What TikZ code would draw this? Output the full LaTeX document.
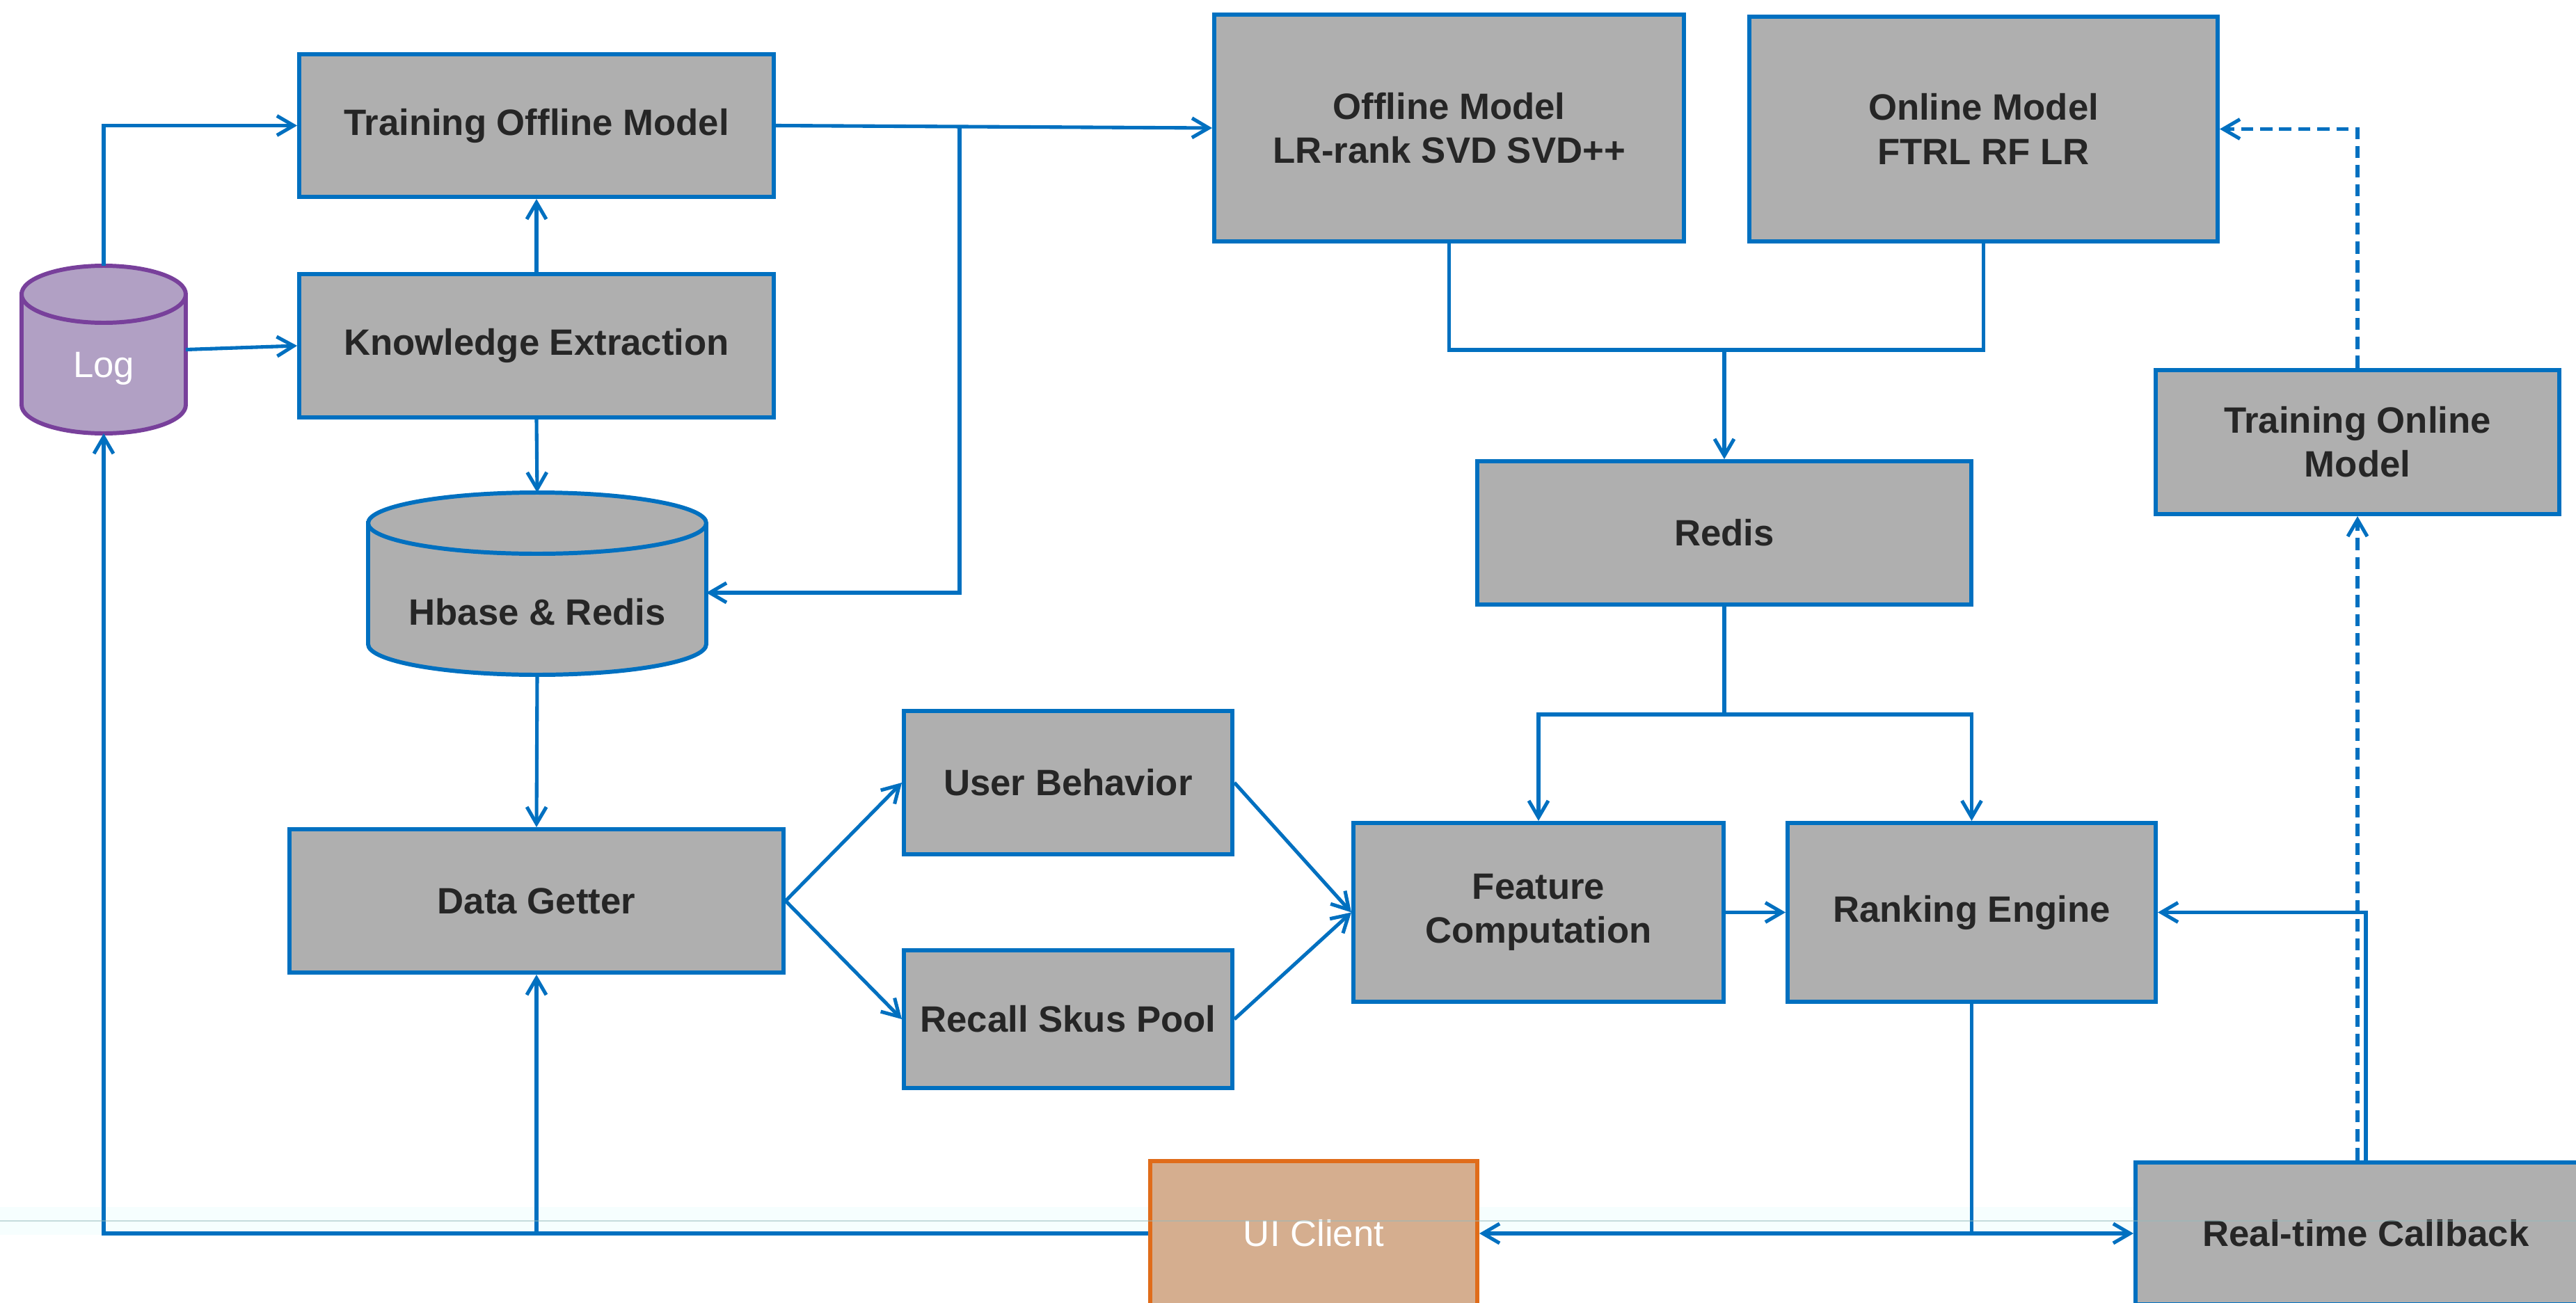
\documentclass[tikz,border=0pt]{standalone}
\usepackage{fontspec}
\setmainfont{Liberation Sans}
\usetikzlibrary{arrows.meta,calc}

\definecolor{flowblue}{RGB}{0,112,192}
\definecolor{boxgrey}{RGB}{175,175,175}
\definecolor{labelgrey}{RGB}{38,38,38}
\definecolor{logfill}{RGB}{177,160,196}
\definecolor{logedge}{RGB}{120,64,155}
\definecolor{uifill}{RGB}{213,174,143}
\definecolor{uiedge}{RGB}{224,108,26}
\definecolor{footerline}{RGB}{150,185,188}
\definecolor{footerband}{RGB}{246,254,254}

\tikzset{
  proc/.style={draw=flowblue, line width=1.7pt, fill=boxgrey, text=labelgrey,
    font=\fontsize{15}{18}\selectfont\bfseries, align=center, inner sep=0pt},
  client/.style={draw=uiedge, line width=1.7pt, fill=uifill, text=white,
    font=\fontsize{15}{18}\selectfont, align=center, inner sep=0pt},
  anchorbox/.style={inner sep=0pt, outer sep=0pt},
  link/.style={draw=flowblue, line width=1.45pt},
  flow/.style={link, -{Straight Barb[length=2.4mm,width=2.8mm]}},
  dashflow/.style={flow, dash pattern=on 5pt off 2.8pt},
}

\begin{document}
\begin{tikzpicture}
\useasboundingbox (0,0) rectangle (37.02,-18.73);
\clip (0,0) rectangle (37.02,-18.73);
\fill[white] (0,0) rectangle (37.02,-18.73);

% faint footer band of the slide
\fill[footerband] (0,-17.35) rectangle (37.02,-17.75);

% ---- storage cylinders ----
\filldraw[fill=logfill, draw=logedge, line width=1.7pt]
  (0.31,-4.23) -- (0.31,-5.82)
  arc[start angle=180, end angle=360, x radius=1.18cm, y radius=0.41cm]
  -- (2.67,-4.23)
  arc[start angle=0, end angle=180, x radius=1.18cm, y radius=0.41cm] -- cycle;
\draw[logedge, line width=1.7pt] (0.31,-4.23)
  arc[start angle=180, end angle=360, x radius=1.18cm, y radius=0.41cm];
\node[anchorbox, minimum width=2.36cm, minimum height=2.41cm] (log) at (1.49,-5.025) {};
\node[font=\fontsize{15}{18}\selectfont, text=white] (logtext) at (1.49,-5.30) {Log};

\filldraw[fill=boxgrey, draw=flowblue, line width=1.7pt]
  (5.29,-7.52) -- (5.29,-9.26)
  arc[start angle=180, end angle=360, x radius=2.43cm, y radius=0.44cm]
  -- (10.15,-7.52)
  arc[start angle=0, end angle=180, x radius=2.43cm, y radius=0.44cm] -- cycle;
\draw[flowblue, line width=1.7pt] (5.29,-7.52)
  arc[start angle=180, end angle=360, x radius=2.43cm, y radius=0.44cm];
\node[anchorbox, minimum width=4.86cm, minimum height=2.62cm] (hb) at (7.72,-8.39) {};
\node[text=labelgrey, font=\fontsize{15}{18}\selectfont\bfseries] (hbtext) at (7.72,-8.80) {Hbase \& Redis};

% ---- process boxes ----
\node[proc, minimum width=6.82cm, minimum height=2.05cm] (tom) at (7.71,-1.805) {Training Offline Model};
\node[proc, minimum width=6.82cm, minimum height=2.06cm] (ke) at (7.71,-4.97) {Knowledge Extraction};
\node[proc, minimum width=7.10cm, minimum height=2.06cm] (dg) at (7.71,-12.95) {Data Getter};
\node[proc, minimum width=4.72cm, minimum height=2.06cm] (ub) at (15.35,-11.25) {User Behavior};
\node[proc, minimum width=4.72cm, minimum height=1.98cm] (rsp) at (15.35,-14.65) {Recall Skus Pool};
\node[proc, minimum width=5.32cm, minimum height=2.57cm] (fc) at (22.11,-13.115) {Feature\\Computation};
\node[proc, minimum width=5.29cm, minimum height=2.57cm] (re) at (28.335,-13.115) {Ranking Engine};
\node[proc, minimum width=7.10cm, minimum height=2.06cm] (redis) at (24.78,-7.66) {Redis};
\node[proc, minimum width=6.75cm, minimum height=3.26cm] (offm) at (20.825,-1.84) {Offline Model\\LR-rank SVD SVD++};
\node[proc, minimum width=6.73cm, minimum height=3.23cm] (onm) at (28.505,-1.855) {Online Model\\FTRL RF LR};
\node[proc, minimum width=5.80cm, minimum height=2.07cm] (tonm) at (33.88,-6.355) {Training Online\\Model};
\node[client, minimum width=4.70cm, minimum height=2.08cm] (ui) at (18.88,-17.73) {UI Client};
\node[proc, minimum width=6.62cm, minimum height=2.04cm] (rtc) at (34.00,-17.73) {Real-time Callback};

% ---- junction points ----
\coordinate (offj) at (13.79,-1.82);
\coordinate (mj) at (24.78,-5.03);
\coordinate (rj) at (24.78,-10.27);

% ---- connectors ----
\draw[flow] (log.north) |- (tom.west);
\draw[flow] (log.east) -- (ke.west);
\draw[flow] (ke.north) -- (tom.south);
\draw[flow] (ke.south) -- (hb.north);
\draw[flow] (tom.east) -- (offm.west);
\draw[flow] (offj) |- ($(hb.east)+(0,-0.13)$);
\draw[flow] (hb.south) -- (dg.north);

\draw[link] (offm.south) |- (mj) -| (onm.south);
\draw[flow] (mj) -- (redis.north);
\draw[link] (redis.south) -- (rj);
\draw[flow] (rj) -| (fc.north);
\draw[flow] (rj) -| (re.north);

\draw[flow] (dg.east) -- (ub.west);
\draw[flow] (dg.east) -- (rsp.west);
\draw[flow] (ub.east) -- (fc.west);
\draw[flow] (rsp.east) -- (fc.west);
\draw[flow] (fc.east) -- (re.west);

\draw[link] (re.south) -- (re.south |- rtc.west);
\draw[flow] (re.south |- rtc.west) -- (ui.east);
\draw[flow] (re.south |- rtc.west) -- (rtc.west);
\draw[flow] (ui.west) -| (log.south);
\draw[flow] (dg.south |- ui.west) -- (dg.south);

\draw[flow] (rtc.north) |- (re.east);
\draw[dashflow] (tonm.south |- rtc.north) -- (tonm.south);
\draw[dashflow] (tonm.north) |- (onm.east);

% faint footer rule drawn over everything
\draw[footerline, line width=0.8pt, opacity=0.5] (0,-17.55) -- (37.02,-17.55);
\end{tikzpicture}
\end{document}
